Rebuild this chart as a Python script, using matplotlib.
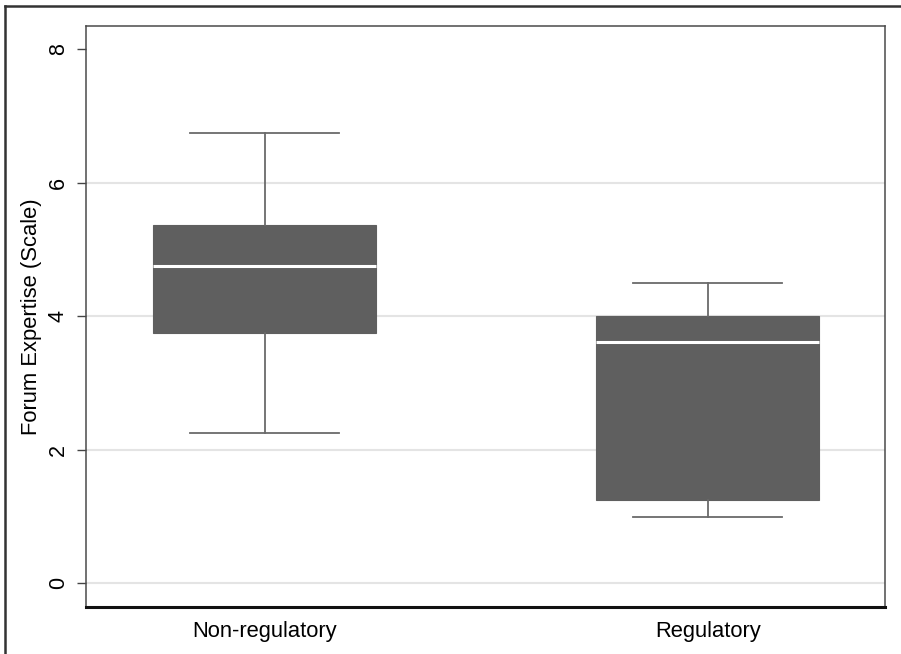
import matplotlib
matplotlib.use("Agg")
import matplotlib.pyplot as plt
from matplotlib.lines import Line2D

plt.rcParams['font.family'] = ['Liberation Sans', 'DejaVu Sans']

# box plot summary values
groups = ["Non-regulatory", "Regulatory"]
whisk_lo = [2.25, 1.0]
q1 = [3.75, 1.25]
medians = [4.75, 3.62]
q3 = [5.37, 4.0]
whisk_hi = [6.75, 4.5]
yticks = [0, 2, 4, 6, 8]
ylabel = "Forum Expertise (Scale)"

stats = []
for i in range(len(groups)):
    stats.append(dict(label=groups[i], whislo=whisk_lo[i], q1=q1[i], med=medians[i],
                      q3=q3[i], whishi=whisk_hi[i], fliers=[]))

fig = plt.figure(figsize=(9.01, 6.54), dpi=100)
ax = fig.add_axes([86/901, 1 - 606.7/654, (885-86)/901, (606.7-26)/654])

ax.bxp(stats, positions=[1, 2], widths=0.503, capwidths=0.336, patch_artist=True,
       showfliers=False,
       boxprops=dict(facecolor='#5f5f5f', edgecolor='#5f5f5f', linewidth=0.8),
       medianprops=dict(color='white', linewidth=2.2),
       whiskerprops=dict(color='#6a6a6a', linewidth=1.3),
       capprops=dict(color='#6a6a6a', linewidth=1.3), zorder=3)

ax.set_xlim(0.597, 2.40)
ax.set_ylim(-0.35, 8.35)
ax.set_yticks(yticks)
ax.set_yticklabels([str(t) for t in yticks], rotation=90, va='center', fontsize=15.5)
ax.set_xticks([1, 2])
ax.set_xticklabels(groups, fontsize=15.8)
ax.tick_params(axis='x', length=0, pad=10)
ax.tick_params(axis='y', length=6.5, width=1, color='#444444', pad=6)
ax.set_ylabel(ylabel, fontsize=15.8, labelpad=4)

# horizontal grid at 0..6 only, as in the original
for t in yticks[:-1]:
    ax.axhline(t, color='#e4e4e4', linewidth=1.5, zorder=0)

for side in ['left', 'top', 'right']:
    ax.spines[side].set_color('#4a4a4a')
    ax.spines[side].set_linewidth(1.1)
ax.spines['bottom'].set_color('#111111')
ax.spines['bottom'].set_linewidth(2.2)

# outer frame (top and left edges only)
fig.add_artist(Line2D([5/901, 1], [1 - 6/654, 1 - 6/654], color='#333333', linewidth=1.8))
fig.add_artist(Line2D([5/901, 5/901], [0, 1 - 6/654], color='#333333', linewidth=1.8))

fig.savefig("out.png", dpi=100)
